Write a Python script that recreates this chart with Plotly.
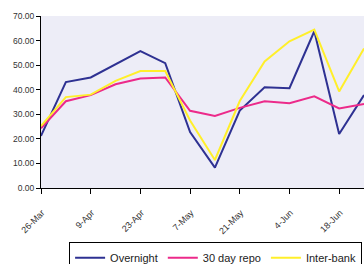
import plotly.graph_objects as go

dates = ["26-Mar", "2-Apr", "9-Apr", "16-Apr", "23-Apr", "30-Apr", "7-May",
         "14-May", "21-May", "28-May", "4-Jun", "11-Jun", "18-Jun", "25-Jun"]
tick_labels = ["26-Mar", "9-Apr", "23-Apr", "7-May", "21-May", "4-Jun", "18-Jun"]
overnight = [21.2, 43.1, 45.0, 50.3, 55.7, 50.8, 22.8, 8.3, 31.5, 41.0, 40.6, 63.8, 22.0, 37.8]
repo30 = [24.3, 35.3, 37.8, 42.2, 44.6, 45.0, 31.4, 29.3, 32.6, 35.3, 34.5, 37.3, 32.4, 34.2]
interbank = [25.2, 37.0, 38.0, 43.6, 47.6, 47.6, 27.5, 11.4, 35.4, 51.5, 59.7, 64.5, 39.3, 56.8]

fig = go.Figure()
fig.add_trace(go.Scatter(x=dates, y=overnight, mode="lines", name="Overnight",
                         line=dict(color="#2E3192", width=2)))
fig.add_trace(go.Scatter(x=dates, y=repo30, mode="lines", name="30 day repo",
                         line=dict(color="#EC2A8A", width=2)))
fig.add_trace(go.Scatter(x=dates, y=interbank, mode="lines", name="Inter-bank",
                         line=dict(color="#FFEF2A", width=2)))

fig.update_layout(
    width=364, height=264,
    margin=dict(l=41, r=0, t=16, b=76, autoexpand=False),
    paper_bgcolor="white",
    plot_bgcolor="#EDEDF7",
    font=dict(family="Liberation Sans, Arial, sans-serif", size=8, color="#333333"),
    xaxis=dict(type="category", range=[0, 13], tickmode="array", tickvals=tick_labels,
               ticktext=tick_labels, tickangle=-45, showline=True, linecolor="black",
               linewidth=1, ticks="outside", ticklen=5, tickcolor="black",
               showgrid=False, zeroline=False, tickfont=dict(size=9),
               ticklabelshift=1, ticklabelstandoff=10),
    yaxis=dict(range=[0, 70], tickvals=[0, 10, 20, 30, 40, 50, 60, 70],
               tickformat=".2f", showline=True, linecolor="black", linewidth=1,
               ticks="outside", ticklen=4, tickcolor="black", showgrid=False,
               zeroline=False, tickfont=dict(size=8.5)),
    showlegend=True,
    legend=dict(orientation="h", x=0.087, xanchor="left", y=-0.315, yanchor="top",
                bordercolor="black", borderwidth=1, bgcolor="white",
                font=dict(size=11, color="#222222"), itemwidth=30),
)

fig.write_html("out.html", config={"displayModeBar": False},
               post_script="document.body.style.margin='0';document.body.style.overflow='hidden';")
